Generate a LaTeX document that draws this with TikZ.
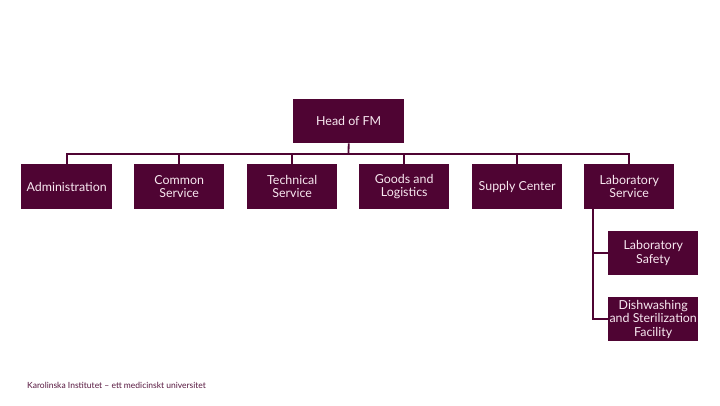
\documentclass[tikz,border=0pt]{standalone}
\usepackage{fontspec}
\setmainfont{Lato}
\definecolor{plum}{HTML}{4F0433}
\definecolor{pinktext}{HTML}{F8E8F0}
\begin{document}
\begin{tikzpicture}[x=1pt,y=-1pt,
  box/.style={fill=plum,draw=none,minimum width=90pt,minimum height=45pt,inner sep=1pt,
    text=pinktext,font=\fontsize{12.4}{13.5}\selectfont,align=center,anchor=north west},
  conn/.style={draw=plum,line width=1.8pt}]
\useasboundingbox (0,0) rectangle (720,405);
\node[box,minimum width=111pt,minimum height=44pt] (head) at (293,99) {Head of FM};
\node[box,minimum width=91pt] (adm) at (21,164) {Administration};
\node[box] (com) at (134,164) {Common\\Service};
\node[box] (tec) at (247,164) {Technical\\Service};
\node[box] (goo) at (359,164) {Goods and\\Logistics};
\node[box] (sup) at (472,164) {Supply Center};
\node[box] (lab) at (584,164) {Laboratory\\Service};
\node[box,minimum height=44pt] (saf) at (608,231) {Laboratory\\Safety};
\node[box,minimum height=44pt] (dish) at (608,297) {Dishwashing\\and Sterilization\\Facility};
\coordinate (bus) at (348.5,154);
\draw[conn] (head.south) -- (bus);
\draw[conn] (adm.north) |- (bus) -| (lab.north);
\foreach \n in {com,tec,goo,sup} \draw[conn] (\n.north) -- (\n.north |- bus);
\coordinate (trunk) at (593,209);
\draw[conn] (trunk) |- (dish.west);
\draw[conn] (saf.west) -- (saf.west -| trunk);
\node[anchor=west,text=plum!85!gray,font=\fontsize{8.5}{10}\selectfont,inner sep=0pt] (foot) at (27,385) {Karolinska Institutet – ett medicinskt universitet};
\end{tikzpicture}
\end{document}
